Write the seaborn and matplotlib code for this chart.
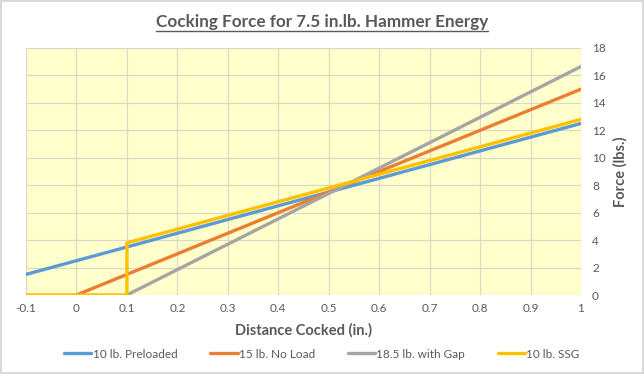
import pandas as pd
import numpy as np
import seaborn as sns
import matplotlib.pyplot as plt
from matplotlib.lines import Line2D

# series data (x in inches, force in lbs)
names = ['10 lb. Preloaded', '15 lb. No Load', '18.5 lb. with Gap', '10 lb. SSG']
x_pre = [-0.1, 1.0]
y_pre = [1.5, 12.5]
x_noload = [0.0, 1.0]
y_noload = [0.0, 15.0]
x_gap = [0.1, 1.0]
y_gap = [0.0, 16.65]
x_ssg = [-0.1, 0.1, 0.1, 1.0]
y_ssg = [0.0, 0.0, 3.8, 12.8]
colors = ['#5B9BD5', '#ED7D31', '#A5A5A5', '#FFC000']

xticks = [-0.1, 0, 0.1, 0.2, 0.3, 0.4, 0.5, 0.6, 0.7, 0.8, 0.9, 1]
xticklabels = ['-0.1', '0', '0.1', '0.2', '0.3', '0.4', '0.5', '0.6', '0.7', '0.8', '0.9', '1']
yticks = [0, 2, 4, 6, 8, 10, 12, 14, 16, 18]

rows = []
for n, xs, ys in zip(names, [x_pre, x_noload, x_gap, x_ssg], [y_pre, y_noload, y_gap, y_ssg]):
    for i, (a, b) in enumerate(zip(xs, ys)):
        rows.append({'series': n, 'x': a, 'y': b, 'order': i})
df = pd.DataFrame(rows)

sns.set_style('white')
plt.rcParams['font.family'] = ['Lato', 'DejaVu Sans']

fig = plt.figure(figsize=(6.44, 3.74), dpi=100)
fig.patch.set_edgecolor('#D9D9D9')
fig.patch.set_linewidth(1.5)
ax = fig.add_axes([26 / 644, 1 - 295 / 374, (581 - 26) / 644, (295 - 48) / 374])
ax.set_facecolor('#FFFFCC')

sns.lineplot(data=df, x='x', y='y', hue='series', hue_order=names, palette=colors,
             estimator=None, sort=False, units='series', linewidth=2.4, ax=ax, legend=False)

ax.set_xlim(-0.1, 1)
ax.set_ylim(0, 18)
ax.set_xticks(xticks)
ax.set_xticklabels(xticklabels)
ax.set_yticks(yticks)
ax.yaxis.tick_right()
ax.yaxis.set_label_position('right')
ax.grid(True, color='#D9D9C8', linewidth=0.9)
ax.set_axisbelow(True)
for s in ax.spines.values():
    s.set_visible(False)
ax.tick_params(axis='both', length=0, labelsize=8.5, labelcolor='#595959', pad=6)
ax.tick_params(axis='y', pad=8)

ax.set_xlabel('Distance Cocked (in.)', fontsize=10.5, fontweight='bold', color='#595959', labelpad=6)
ax.set_ylabel('Force (lbs.)', fontsize=10.5, fontweight='bold', color='#595959', labelpad=5)

title = fig.text(0.5, 1 - 22 / 374, 'Cocking Force for 7.5 in.lb. Hammer Energy',
                 ha='center', va='center', fontsize=12.3, fontweight='bold', color='#595959')
fig.canvas.draw()
bb = title.get_window_extent()
yline = (bb.y0 - 1) / fig.bbox.height
fig.add_artist(Line2D([bb.x0 / fig.bbox.width, bb.x1 / fig.bbox.width], [yline, yline],
                      color='#595959', linewidth=1.0))

handles = [Line2D([], [], color=c, linewidth=2.4) for c in colors]
fig.legend(handles, names, loc='center', bbox_to_anchor=(0.5, 1 - 354 / 374), ncol=4,
           frameon=False, fontsize=8.5, handlelength=2.3, handletextpad=0.1,
           columnspacing=2.8, labelcolor='#595959')

fig.savefig('out.png', dpi=100)
